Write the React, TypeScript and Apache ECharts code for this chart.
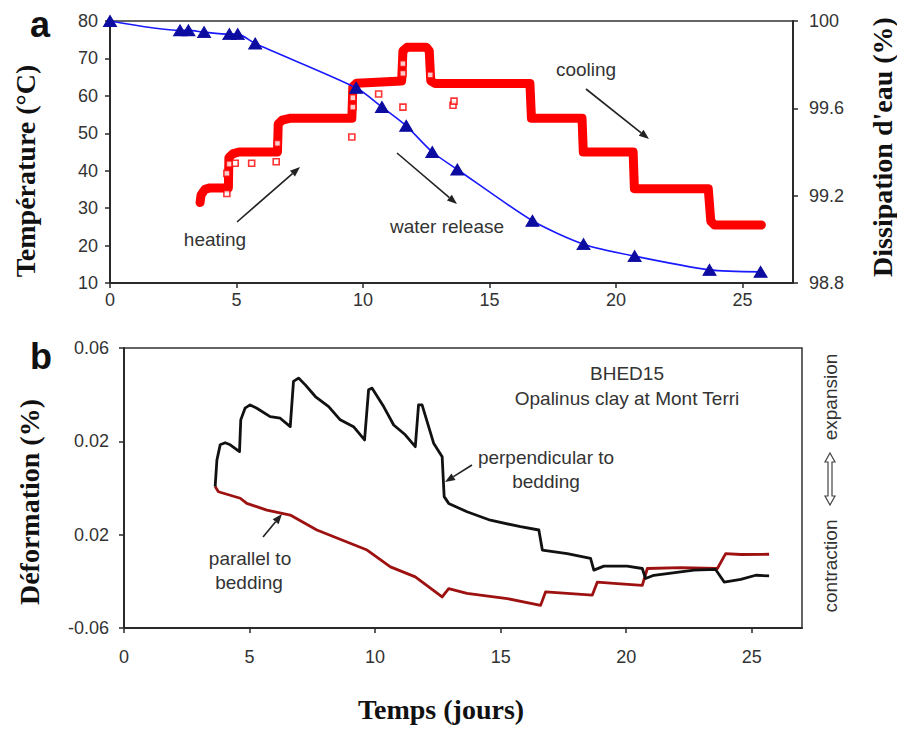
import React, { useEffect, useRef } from "react";
import * as echarts from "echarts";

// ---------- axis ticks ----------
const dayTicks = [0, 5, 10, 15, 20, 25];
const dissipTicks = [98.8, 99.2, 99.6, 100];
const dissipTickLabels = ["98.8", "99.2", "99.6", "100"];
const deformTicks = [-0.06, -0.02, 0.02, 0.06];
const deformTickLabels = ["-0.06", "0.02", "0.02", "0.06"];

// ---------- panel a : water dissipation (%) ----------
const dissipDays = [0, 2.77, 3.1, 3.72, 4.72, 5.05, 5.74, 9.73, 10.75, 11.71, 12.74, 13.73, 16.7, 18.72, 20.74, 23.7, 25.72];
const dissipValues = [100.0, 99.957, 99.957, 99.949, 99.94, 99.94, 99.897, 99.694, 99.606, 99.52, 99.4, 99.32, 99.085, 98.978, 98.923, 98.86, 98.851];

// ---------- panel a : temperature (°C) ----------
const tempDays = [3.56, 3.6, 3.75, 3.95, 4.68, 4.7, 4.85, 5.1, 6.62, 6.65, 6.8, 7.1, 9.56, 9.6, 9.75, 11.53, 11.58, 11.75, 12.5, 12.62, 12.68, 12.85, 16.6, 16.66, 18.66, 18.71, 20.68, 20.73, 23.65, 23.75, 23.9, 25.75];
const tempValues = [31.5, 33.5, 35, 35.4, 35.4, 43.5, 44.5, 45, 45, 52.5, 53.5, 54, 54, 62.5, 63.4, 64, 72, 73, 73, 72, 64, 63.3, 63.3, 54, 54, 45, 45, 35.2, 35.2, 26.5, 25.5, 25.5];
const tempScatterDays = [4.62, 4.62, 4.72, 4.95, 5.6, 6.57, 6.62, 9.56, 9.6, 9.6, 10.62, 11.58, 11.58, 11.58, 12.66, 13.56, 13.6];
const tempScatterValues = [33.9, 39.3, 41.8, 42, 42, 42.4, 47.3, 49, 57, 59.5, 60.5, 68.6, 66, 57, 65.6, 57.5, 58.6];

// ---------- panel b : deformation (%) ----------
const perpDays = [3.63, 3.7, 3.83, 4.03, 4.23, 4.6, 4.65, 4.82, 5.02, 5.29, 5.82, 6.22, 6.62, 6.75, 6.95, 7.22, 7.62, 8.15, 8.61, 9.14, 9.58, 9.74, 9.88, 10.34, 10.74, 11.2, 11.6, 11.73, 11.87, 12.33, 12.67, 12.75, 12.93, 13.66, 14.59, 15.79, 16.52, 16.66, 17.65, 18.58, 18.71, 19.11, 20.04, 20.64, 20.77, 21.1, 22.7, 23.56, 23.9, 24.56, 25.16, 25.69];
const perpValues = [0.0006, 0.012, 0.0185, 0.0194, 0.0185, 0.0156, 0.0292, 0.0342, 0.0356, 0.0342, 0.0306, 0.0299, 0.0263, 0.0457, 0.0471, 0.0442, 0.0392, 0.0349, 0.0292, 0.0263, 0.0206, 0.0421, 0.0428, 0.0349, 0.027, 0.0228, 0.0177, 0.0356, 0.0356, 0.0192, 0.0134, -0.0037, -0.0066, -0.0102, -0.0138, -0.0166, -0.018, -0.0266, -0.0281, -0.0302, -0.0352, -0.0335, -0.0335, -0.0345, -0.0388, -0.0374, -0.0352, -0.0349, -0.0403, -0.0392, -0.0374, -0.0377];
const paraDays = [3.63, 3.76, 4.63, 4.89, 5.69, 6.62, 7.68, 9.68, 10.61, 11.6, 12.67, 12.93, 13.66, 15.26, 16.59, 16.79, 17.65, 18.65, 18.85, 19.64, 20.64, 20.84, 22.17, 23.63, 23.96, 24.56, 25.69];
const paraValues = [0.0006, -0.0016, -0.0044, -0.0066, -0.0095, -0.0116, -0.018, -0.0266, -0.0338, -0.0381, -0.0467, -0.0431, -0.0452, -0.0474, -0.0503, -0.0445, -0.0452, -0.0459, -0.0403, -0.041, -0.0417, -0.0345, -0.0341, -0.0345, -0.0281, -0.0285, -0.0284];

const zip = (xs: number[], ys: number[]) => xs.map((x, i) => [x, ys[i]]);

const SANS = "'Liberation Sans', Arial, Helvetica, sans-serif";
const SERIF = "'Liberation Serif', 'Times New Roman', Times, serif";
const AXIS_COLOR = "#2a2a2a";
const LABEL_COLOR = "#333";

function arrow(x1: number, y1: number, x2: number, y2: number) {
  const dx = x2 - x1;
  const dy = y2 - y1;
  const len = Math.sqrt(dx * dx + dy * dy);
  const ux = dx / len;
  const uy = dy / len;
  const head = 10;
  const w = 3.8;
  const bx = x2 - ux * head;
  const by = y2 - uy * head;
  const nx = -uy;
  const ny = ux;
  return [
    { type: "line", shape: { x1, y1, x2: bx, y2: by }, style: { stroke: "#222", lineWidth: 1.6 }, silent: true },
    {
      type: "polygon",
      shape: { points: [[x2, y2], [bx + nx * w, by + ny * w], [bx - nx * w, by - ny * w]] },
      style: { fill: "#222" },
      silent: true,
    },
  ];
}

function txt(text: string, x: number, y: number, size: number, opts: any = {}) {
  return {
    type: "text",
    x,
    y,
    rotation: opts.rotation || 0,
    silent: true,
    style: {
      text,
      fill: opts.fill || LABEL_COLOR,
      font: `${opts.weight || "normal"} ${size}px ${opts.family || SANS}`,
      align: "center",
      verticalAlign: "middle",
    },
  };
}

function doubleArrow(cx: number, top: number, bot: number) {
  const hw = 5;
  const sw = 2;
  const hl = 9;
  return {
    type: "polygon",
    silent: true,
    shape: {
      points: [
        [cx, top], [cx + hw, top + hl], [cx + sw, top + hl], [cx + sw, bot - hl], [cx + hw, bot - hl],
        [cx, bot], [cx - hw, bot - hl], [cx - sw, bot - hl], [cx - sw, top + hl], [cx - hw, top + hl],
      ],
    },
    style: { fill: "#fff", stroke: "#444", lineWidth: 1.2 },
  };
}

const pick = (ticks: number[], labels: string[]) => (v: number) => {
  const i = ticks.findIndex((t) => Math.abs(t - v) < 1e-6);
  return i >= 0 ? labels[i] : "";
};

export default function App() {
  const ref = useRef<HTMLDivElement>(null);

  useEffect(() => {
    if (!ref.current) return;
    const chart = echarts.init(ref.current, undefined, { renderer: "svg" });

    const axisLine = { show: true, onZero: false, lineStyle: { color: AXIS_COLOR, width: 2 } };
    const axisTickBase = { show: true, length: 5, inside: false, lineStyle: { color: AXIS_COLOR, width: 1.5 } };
    const labelBase = { color: LABEL_COLOR, fontSize: 18, fontFamily: SANS };

    const option: any = {
      animation: false,
      backgroundColor: "#fff",
      grid: [
        { left: 110, top: 21, width: 683, height: 262, show: true, borderColor: "#333", borderWidth: 1.5, backgroundColor: "transparent" },
        { left: 124, top: 348, width: 678, height: 280, show: true, borderColor: "#333", borderWidth: 1.5, backgroundColor: "transparent" },
      ],
      xAxis: [
        {
          gridIndex: 0, type: "value", min: 0, max: 27,
          axisLine, axisTick: { ...axisTickBase, customValues: dayTicks },
          axisLabel: { ...labelBase, customValues: dayTicks, margin: 8 },
          splitLine: { show: false },
        },
        {
          gridIndex: 1, type: "value", min: 0, max: 27,
          axisLine, axisTick: { ...axisTickBase, customValues: dayTicks },
          axisLabel: { ...labelBase, customValues: dayTicks, margin: 20 },
          splitLine: { show: false },
        },
      ],
      yAxis: [
        {
          gridIndex: 0, type: "value", min: 10, max: 80, interval: 10, position: "left",
          axisLine, axisTick: axisTickBase,
          axisLabel: { ...labelBase, margin: 12 },
          splitLine: { show: false },
        },
        {
          gridIndex: 0, type: "value", min: 98.8, max: 100, position: "right",
          axisLine, axisTick: { ...axisTickBase, customValues: dissipTicks },
          axisLabel: { ...labelBase, customValues: dissipTicks, margin: 16, formatter: pick(dissipTicks, dissipTickLabels) },
          splitLine: { show: false },
        },
        {
          gridIndex: 1, type: "value", min: -0.06, max: 0.06, position: "left",
          axisLine, axisTick: { ...axisTickBase, customValues: deformTicks },
          axisLabel: { ...labelBase, customValues: deformTicks, margin: 15, formatter: pick(deformTicks, deformTickLabels) },
          splitLine: { show: false },
        },
      ],
      series: [
        {
          name: "Température",
          type: "line", xAxisIndex: 0, yAxisIndex: 0,
          data: zip(tempDays, tempValues),
          showSymbol: false, symbol: "none",
          lineStyle: { color: "#ff0000", width: 9, join: "round", cap: "round" },
          z: 2,
        },
        {
          name: "Température (points)",
          type: "scatter", xAxisIndex: 0, yAxisIndex: 0,
          data: zip(tempScatterDays, tempScatterValues),
          symbol: "rect", symbolSize: 6,
          itemStyle: { color: "#fff", borderColor: "#ff0000", borderWidth: 1.6 },
          z: 3,
        },
        {
          name: "Dissipation d'eau",
          type: "line", xAxisIndex: 0, yAxisIndex: 1,
          data: zip(dissipDays, dissipValues),
          smooth: 0.25,
          symbol: "triangle", symbolSize: [13, 11], showSymbol: true,
          itemStyle: { color: "#0c0ca0", borderColor: "#0c0ca0" },
          lineStyle: { color: "#1a1aff", width: 1.6 },
          z: 4,
        },
        {
          name: "parallel to bedding",
          type: "line", xAxisIndex: 1, yAxisIndex: 2,
          data: zip(paraDays, paraValues),
          showSymbol: false, symbol: "none",
          lineStyle: { color: "#9e1111", width: 2.8, join: "round" },
          z: 3,
        },
        {
          name: "perpendicular to bedding",
          type: "line", xAxisIndex: 1, yAxisIndex: 2,
          data: zip(perpDays, perpValues),
          showSymbol: false, symbol: "none",
          lineStyle: { color: "#111", width: 2.8, join: "round" },
          z: 4,
        },
      ],
      graphic: [
        txt("a", 40, 24, 36, { weight: "bold", fill: "#111" }),
        txt("b", 41, 356, 36, { weight: "bold", fill: "#111" }),
        txt("Température (°C)", 25, 171, 28, { weight: "bold", family: SERIF, fill: "#111", rotation: Math.PI / 2 }),
        txt("Dissipation d'eau (%)", 882, 147, 28, { weight: "bold", family: SERIF, fill: "#111", rotation: Math.PI / 2 }),
        txt("Déformation (%)", 29, 502, 28, { weight: "bold", family: SERIF, fill: "#111", rotation: Math.PI / 2 }),
        txt("Temps (jours)", 441, 709, 28, { weight: "bold", family: SERIF, fill: "#111" }),
        txt("heating", 215, 239, 19),
        ...arrow(237, 222, 300, 167),
        txt("water release", 447, 226, 19),
        ...arrow(397, 153, 457, 204),
        txt("cooling", 586, 69, 19),
        ...arrow(586, 89, 649, 139),
        txt("BHED15", 627, 373, 19),
        txt("Opalinus clay at Mont Terri", 627, 398, 19),
        txt("perpendicular to", 546, 457, 19),
        txt("bedding", 546, 481, 19),
        ...arrow(472, 465, 445, 482),
        txt("parallel to", 250, 558, 19),
        txt("bedding", 249, 582, 19),
        ...arrow(263, 537, 282, 514),
        txt("expansion", 830, 397, 19, { rotation: Math.PI / 2 }),
        doubleArrow(830, 453, 505),
        txt("contraction", 830, 566, 19, { rotation: Math.PI / 2 }),
      ],
    };

    chart.setOption(option);
    return () => chart.dispose();
  }, []);

  return (
    <div
      ref={ref}
      style={{ position: "fixed", left: 0, top: 0, width: 897, height: 731, background: "#fff" }}
    />
  );
}
